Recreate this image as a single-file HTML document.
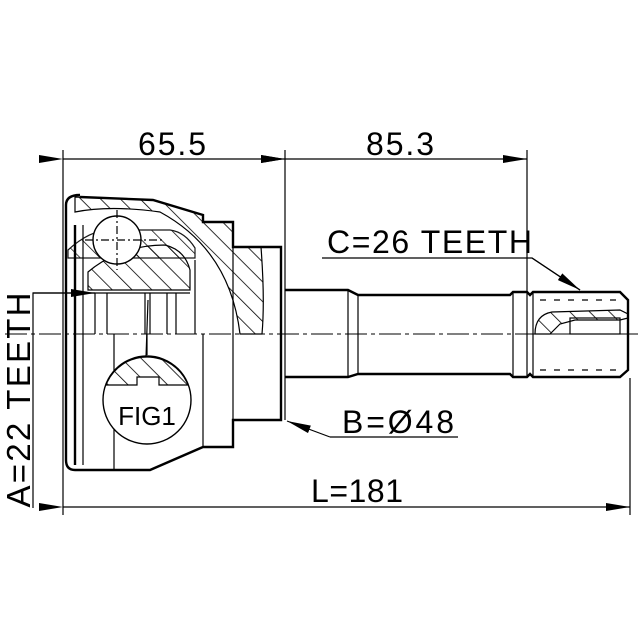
<!DOCTYPE html>
<html><head><meta charset="utf-8"><style>html,body{margin:0;padding:0;background:#fff}svg{display:block}text{font-family:"Liberation Sans",sans-serif;fill:#000}</style></head><body>
<svg width="640" height="640" viewBox="0 0 640 640" xmlns="http://www.w3.org/2000/svg">
<defs>
<pattern id="h" patternUnits="userSpaceOnUse" width="14" height="14" patternTransform="rotate(-45)"><line x1="0" y1="0" x2="0" y2="14" stroke="#000" stroke-width="1.6"/></pattern>
<marker id="a" markerWidth="24" markerHeight="8" refX="24" refY="4" orient="auto" markerUnits="userSpaceOnUse"><path d="M0,0 L24,4 L0,8z" fill="#000"/></marker>
</defs>
<g stroke="#000" fill="none" stroke-width="1.2">
<line x1="63" y1="150" x2="63" y2="515"/>
<line x1="285" y1="150" x2="285" y2="420"/>
<line x1="527" y1="150" x2="527" y2="292"/>
<line x1="630" y1="378" x2="630" y2="515"/>
<line x1="63" y1="159" x2="285" y2="159" marker-start="url(#a)" marker-end="url(#a)"/>
<line x1="285" y1="159" x2="527" y2="159" marker-start="url(#a)" marker-end="url(#a)"/>
<line x1="63" y1="507" x2="630" y2="507" marker-start="url(#a)" marker-end="url(#a)"/>
<polyline points="33,508 33,293 95,293"/>
<line x1="33" y1="293" x2="95" y2="293" marker-end="url(#a)"/>
<line x1="95" y1="293" x2="190" y2="293"/>
<polyline points="322,258 532,258 580,290"/>
<line x1="532" y1="258" x2="580" y2="290" marker-end="url(#a)"/>
<polyline points="458,437 330,437"/>
<line x1="330" y1="437" x2="287" y2="421" marker-end="url(#a)"/>
<line x1="5" y1="334" x2="638" y2="334" stroke-dasharray="22,4,4,4" stroke-width="1"/>
</g>
<g stroke="#000" stroke-width="2.4" fill="none">
<path d="M80,197 L153,200 L203,215 L203,222 L233,222 L233,247 L281,247 L281,420 L233,420 L233,447 L203,447 L150,470 L75,470 Q66,470 66,460 L66,205 Q66,195 80,195"/>
<line x1="75" y1="225" x2="75" y2="465"/>
<line x1="83" y1="225" x2="83" y2="465" stroke-width="1.2"/>
</g>
<path d="M75,197 L153,200 L203,215 L203,222 L233,222 L233,247 L261,247 Q265,300 262,334 L240,334 Q230,250 160,212 Q110,205 75,212z" fill="url(#h)" stroke="#000" stroke-width="1.2"/>
<path d="M88,272 Q120,245 165,245 Q185,250 190,270 L190,290 L88,290z" fill="url(#h)" stroke="#000" stroke-width="1.2"/>
<path d="M68,250 Q90,230 110,230 L170,230 Q185,232 195,248 L195,258 L68,258z" fill="url(#h)" stroke="#000" stroke-width="1.2" opacity="0.9"/>
<circle cx="117" cy="240" r="24" fill="#fff" stroke="#000" stroke-width="1.4"/>
<g stroke="#000" stroke-width="1.2" fill="none">
<line x1="117" y1="210" x2="117" y2="270" stroke-dasharray="8,3,2,3"/>
<line x1="85" y1="240" x2="165" y2="240" stroke-dasharray="8,3,2,3"/>
<line x1="95" y1="293" x2="95" y2="334"/><line x1="107" y1="293" x2="107" y2="334"/>
<line x1="167" y1="293" x2="167" y2="334"/><line x1="176" y1="293" x2="176" y2="334"/>
<line x1="195" y1="260" x2="195" y2="334"/>
<line x1="145" y1="293" x2="145" y2="334"/><line x1="150" y1="293" x2="150" y2="334"/>
<line x1="148" y1="300" x2="146" y2="357"/>
<line x1="114" y1="334" x2="114" y2="470"/><line x1="147" y1="334" x2="147" y2="355"/>
<line x1="203" y1="334" x2="203" y2="447"/><line x1="233" y1="247" x2="233" y2="420"/>
</g>
<circle cx="147" cy="400" r="44" fill="#fff" stroke="#000" stroke-width="1.4"/>
<path d="M106,385 A44,44 0 0 1 188,385 L159,385 L159,377 L137,377 L137,385z" fill="url(#h)" stroke="#000" stroke-width="1.2"/>
<text x="147" y="425" font-size="26" text-anchor="middle">FIG1</text>
<g stroke="#000" stroke-width="2.4" fill="none">
<path d="M285,290 L348,290 L358,295 L510,295 L513,292 L527,292 L530,295 L533,292 L620,292 L628,300 L628,370 L620,377 L533,377 L530,374 L527,377 L513,377 L510,374 L358,374 L348,377 L285,377"/>
</g>
<g stroke="#000" stroke-width="1.2" fill="none">
<line x1="348" y1="290" x2="348" y2="377"/><line x1="358" y1="295" x2="358" y2="374"/>
<line x1="513" y1="292" x2="513" y2="377"/><line x1="527" y1="292" x2="527" y2="377"/>
<line x1="533" y1="292" x2="533" y2="377"/>
<line x1="540" y1="300" x2="620" y2="300" stroke-dasharray="6,8"/>
<line x1="540" y1="370" x2="620" y2="370" stroke-dasharray="6,8"/>
</g>
<path d="M535,334 Q535,315 552,312 L620,310 L628,314 L628,318 L620,320 L575,320 L560,324 L550,334z" fill="url(#h)" stroke="#000" stroke-width="1.2"/>
<rect x="570" y="318" width="50" height="16" fill="none" stroke="#000" stroke-width="1.2"/>
<text x="172" y="155" font-size="32" text-anchor="middle" textLength="68">65.5</text>
<text x="400" y="155" font-size="32" text-anchor="middle" textLength="68">85.3</text>
<text x="357" y="502" font-size="32" text-anchor="middle" textLength="92">L=181</text>
<text x="327" y="253" font-size="32" textLength="205">C=26 TEETH</text>
<text x="342" y="433" font-size="32" textLength="112">B=Ø48</text>
<text transform="translate(30,400) rotate(-90)" font-size="33" text-anchor="middle" textLength="215">A=22 TEETH</text>
</svg>
</body></html>
